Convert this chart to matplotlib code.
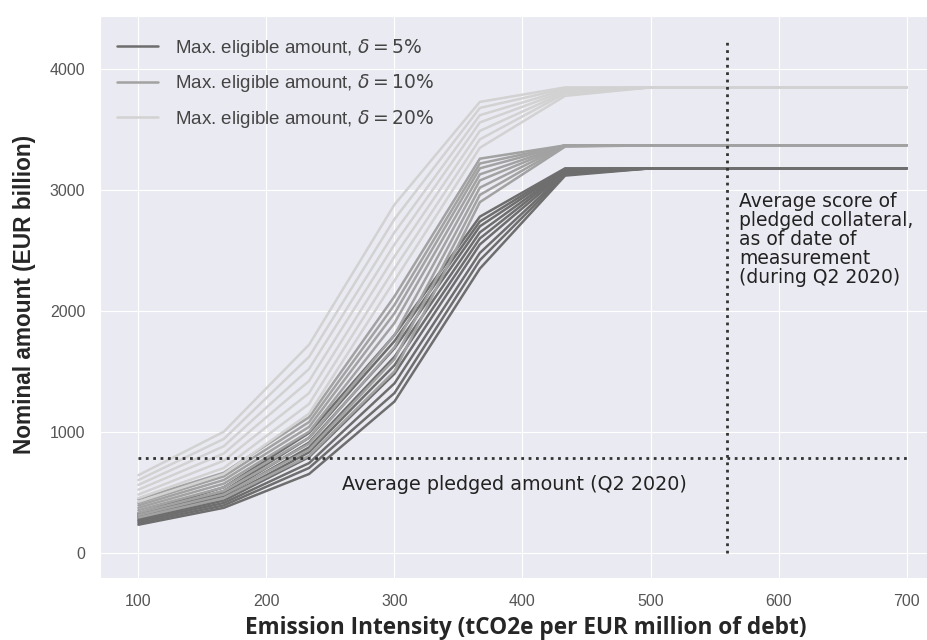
import matplotlib.pyplot as plt
import seaborn as sns

#########################
# DATA
#########################

X_VALUES = [100, 166.7, 233.3, 300, 366.7, 433.3, 500, 566.7, 633.3, 700]

# delta = 5% (dark)
DARK_LINES = [
    [230, 370, 650, 1250, 2350, 3120, 3180, 3180, 3180, 3180],
    [245, 390, 700, 1320, 2420, 3130, 3180, 3180, 3180, 3180],
    [260, 410, 740, 1400, 2480, 3140, 3180, 3180, 3180, 3180],
    [270, 430, 790, 1480, 2550, 3150, 3180, 3180, 3180, 3180],
    [285, 450, 830, 1550, 2600, 3160, 3180, 3180, 3180, 3180],
    [295, 470, 870, 1620, 2650, 3165, 3180, 3180, 3180, 3180],
    [305, 490, 910, 1690, 2700, 3170, 3180, 3180, 3180, 3180],
    [315, 510, 950, 1750, 2740, 3175, 3180, 3180, 3180, 3180],
    [325, 540, 990, 1800, 2780, 3180, 3180, 3180, 3180, 3180],
]

# delta = 10% (medium)
MID_LINES = [
    [290, 450, 800, 1500, 2900, 3360, 3370, 3370, 3370, 3370],
    [310, 480, 850, 1600, 2960, 3365, 3370, 3370, 3370, 3370],
    [330, 510, 900, 1700, 3020, 3370, 3370, 3370, 3370, 3370],
    [350, 540, 950, 1800, 3080, 3370, 3370, 3370, 3370, 3370],
    [370, 570, 1000, 1900, 3130, 3370, 3370, 3370, 3370, 3370],
    [390, 600, 1040, 1980, 3180, 3370, 3370, 3370, 3370, 3370],
    [410, 630, 1080, 2050, 3220, 3370, 3370, 3370, 3370, 3370],
    [440, 660, 1120, 2120, 3260, 3370, 3370, 3370, 3370, 3370],
]

# delta = 20% (light)
LIGHT_LINES = [
    [420, 650, 1150, 2250, 3350, 3780, 3850, 3850, 3850, 3850],
    [450, 700, 1230, 2350, 3420, 3800, 3850, 3850, 3850, 3850],
    [480, 760, 1320, 2450, 3490, 3810, 3850, 3850, 3850, 3850],
    [520, 820, 1420, 2550, 3560, 3820, 3850, 3850, 3850, 3850],
    [560, 880, 1520, 2650, 3620, 3830, 3850, 3850, 3850, 3850],
    [600, 940, 1620, 2760, 3680, 3840, 3850, 3850, 3850, 3850],
    [640, 1000, 1720, 2880, 3730, 3850, 3850, 3850, 3850, 3850],
]

AVG_PLEDGED = 780
AVG_SCORE = 560
SCORE_LINE_TOP = 4230

LABELS = [
    r"Max. eligible amount, $\delta = 5\%$",
    r"Max. eligible amount, $\delta = 10\%$",
    r"Max. eligible amount, $\delta = 20\%$",
]

#########################
# PLOT
#########################

sns.set_style("darkgrid")
plt.rcParams["font.family"] = ["Liberation Sans", "DejaVu Sans"]

fig = plt.figure(figsize=(9.28, 6.4), dpi=100)
ax = fig.add_axes([100 / 928, 62 / 640, 845 / 928, 562 / 640])

groups = [(DARK_LINES, "#6e6e6e"), (MID_LINES, "#a2a2a2"), (LIGHT_LINES, "#d2d2d2")]
for (lines, color), label in zip(groups, LABELS):
    for i, ys in enumerate(lines):
        ax.plot(X_VALUES, ys, color=color, lw=1.8, label=label if i == 0 else None)

ax.plot([X_VALUES[0], X_VALUES[-1]], [AVG_PLEDGED, AVG_PLEDGED], ls=":", color="#333333", lw=2)
ax.plot([AVG_SCORE, AVG_SCORE], [0, SCORE_LINE_TOP], ls=":", color="#333333", lw=2)

ax.text(259, 560, "Average pledged amount (Q2 2020)", fontsize=13.8,
        family="DejaVu Sans", color="#222222", va="center")
ax.text(569, 2985, "Average score of\npledged collateral,\nas of date of\nmeasurement\n(during Q2 2020)",
        fontsize=13.5, family="DejaVu Sans", color="#222222", va="top", linespacing=1.0)

ax.set_xlim(70, 730)
ax.set_ylim(-211, 4441)
ax.set_xticks([100, 200, 300, 400, 500, 600, 700])
ax.set_yticks([0, 1000, 2000, 3000, 4000])
ax.tick_params(labelsize=11.5, labelcolor="#555555")
ax.tick_params(axis="x", pad=8)
ax.tick_params(axis="y", pad=7)

ax.set_xlabel("Emission Intensity (tCO2e per EUR million of debt)", fontsize=16.3,
              fontweight="bold", family="Open Sans")
ax.set_ylabel("Nominal amount (EUR billion)", fontsize=16.3,
              fontweight="bold", family="Liberation Sans")
ax.xaxis.set_label_coords(0.504, -0.068)
ax.yaxis.set_label_coords(-0.076, 0.504)

leg = ax.legend(loc="upper left", bbox_to_anchor=(0, 1 - 4 / 562), frameon=False,
                fontsize=13.5, handlelength=2.2, handletextpad=0.9, labelspacing=0.72)
for t in leg.get_texts():
    t.set_color("#444444")

plt.savefig("out.png", dpi=100)
plt.close()
